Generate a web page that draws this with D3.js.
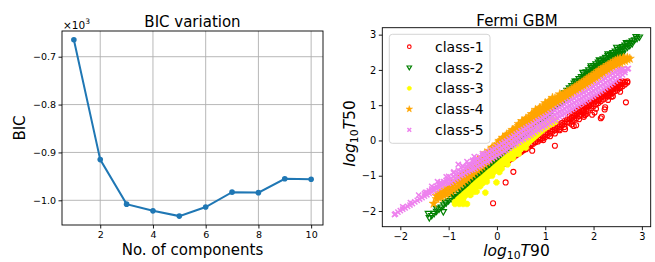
<!DOCTYPE html>
<html><head><meta charset="utf-8">
<script src="https://cdn.jsdelivr.net/npm/d3@7/dist/d3.min.js"></script>
<style>
html,body{margin:0;padding:0;background:#fff;}
svg{display:block;font-family:"DejaVu Sans",sans-serif;}
</style></head>
<body><svg id="c" width="655" height="262"></svg>
<script>
// ---------- Left panel data ----------
const components = [1,2,3,4,5,6,7,8,9,10];
const bicValues = [-664.5,-915,-1008,-1022,-1033,-1014,-983,-984,-955,-956];
const bicXTicks = [2,4,6,8,10];
const bicYTicks = [-1000,-900,-800,-700];

// ---------- Right panel data (log10 T90, log10 T50) ----------
const classNames = ["class-1","class-2","class-3","class-4","class-5"];
const classColors = ["red","green","yellow","orange","violet"];
const scatterTicks = [-2,-1,0,1,2,3];

// rows: [x, y, y, ...]
const class1Rows = [
[0.15,-0.66],[0.20,-0.61],[0.25,-0.56],[0.30,-0.52],[0.35,-0.47],[0.40,-0.42],[0.45,-0.37],
[0.50,-0.33,-0.30],[0.55,-0.28],[0.60,-0.23,-0.25],[0.65,-0.18],[0.70,-0.14,-0.11],[0.75,-0.09],
[0.80,-0.05,-0.01],[0.85,-0.03,0.04],[0.90,0.02,0.07],[0.95,0.06,0.12],[1.00,0.10,0.18],
[1.05,0.15,0.22],[1.10,0.20,0.27,0.12],[1.15,0.25,0.31],[1.20,0.29,0.36,0.20],[1.25,0.34,0.41],
[1.30,0.38,0.46,0.29],[1.35,0.43,0.50],[1.40,0.47,0.55,0.38],[1.45,0.52,0.60],
[1.50,0.50,0.60,0.68],[1.55,0.54,0.64,0.73],[1.60,0.59,0.69,0.78],[1.65,0.64,0.74,0.83],
[1.70,0.69,0.79,0.88],[1.75,0.73,0.83,0.93],[1.80,0.78,0.88,0.97],[1.85,0.83,0.93,1.02],
[1.90,0.87,0.97,1.07],[1.95,0.92,1.02,1.12],[2.00,0.97,1.07,1.17],[2.05,1.02,1.12,1.22],
[2.10,1.06,1.16,1.26],[2.15,1.11,1.21,1.31],[2.20,1.16,1.26,1.36],[2.25,1.21,1.31,1.40],
[2.30,1.25,1.35,1.45],[2.35,1.30,1.40,1.50],[2.40,1.35,1.45,1.55],[2.45,1.40,1.50,1.59],
[2.50,1.44,1.54,1.64],[2.55,1.49,1.59,1.66],[2.60,1.54,1.63,1.68],[2.65,1.59,1.66],[2.70,1.64,1.68]
];
const class1Scatter = [
[-0.08,-1.78],[0.34,-0.89],[0.18,-1.19],[1.20,-0.15],[0.73,-0.29],[0.96,0.01],[1.29,0.32],[1.41,0.32],
[1.59,0.41],[1.64,0.43],[1.80,0.67],[1.97,0.73],[2.02,0.79],[2.15,0.63],[2.23,0.88],[2.24,0.94],
[2.67,1.08],[2.48,1.48],[2.34,1.34],[2.11,1.15],[1.90,0.98],[1.79,0.86],[1.82,0.72],[2.17,0.67],
[2.37,1.24],[1.70,0.60],[1.85,0.75],[2.05,0.90],[2.30,1.15],[2.55,1.38],[1.55,0.45],[2.40,1.25]
];

const class2Rows = [
[-1.40,-2.19],[-1.35,-2.13],[-1.30,-2.07],[-1.25,-2.01],[-1.20,-1.95],[-1.15,-1.89],[-1.10,-1.83],
[-1.05,-1.77],[-1.00,-1.71],[-0.95,-1.65],[-0.90,-1.59],[-0.85,-1.53],[-0.80,-1.47],[-0.75,-1.41],
[-0.70,-1.35],[-0.65,-1.29],[-0.60,-1.23,-1.31],[-0.55,-1.17,-1.25],[-0.50,-1.11,-1.19],[-0.45,-1.05,-1.13],
[-0.40,-0.99,-1.07],[-0.35,-0.93,-1.01],[-0.30,-0.87,-0.95],[-0.25,-0.81,-0.89],[-0.20,-0.75,-0.83],
[-0.15,-0.69,-0.77],[-0.10,-0.63,-0.71],[-0.05,-0.57,-0.65],[0.00,-0.51,-0.59],[0.05,-0.45,-0.53],
[0.10,-0.39,-0.47],[0.15,-0.33,-0.41],[0.20,-0.27,-0.35],[0.25,-0.21,-0.29],[0.30,-0.15,-0.23],
[0.35,-0.09,-0.17],[0.40,-0.03,-0.11],[0.45,0.03,-0.05],[0.50,0.09,0.01],[0.55,0.15,0.07],
[0.60,0.21],[0.65,0.27],[0.70,0.33],[0.75,0.39],[0.80,0.45],[0.85,0.51],[0.90,0.57],[0.95,0.63],
[1.00,0.69],[1.05,0.75],[1.10,0.81],[1.15,0.87],[1.20,0.93],[1.25,0.99],[1.30,1.05],[1.35,1.11],
[1.40,1.35,1.25,1.17],[1.45,1.42,1.32,1.23],[1.50,1.49,1.39,1.29],[1.55,1.55,1.45,1.35],
[1.60,1.62,1.52,1.42],[1.65,1.68,1.58,1.48],[1.70,1.75,1.65,1.55],[1.75,1.81,1.71,1.61],
[1.80,1.88,1.78,1.68],[1.85,1.94,1.84,1.74],[1.90,2.00,1.90,1.80],[1.95,2.06,1.96,1.86],
[2.00,2.12,2.02,1.92],[2.05,2.17,2.07,1.97],[2.10,2.22,2.12,2.02],[2.15,2.26,2.16,2.06],
[2.20,2.31,2.21,2.11],[2.25,2.35,2.25,2.15],[2.30,2.40,2.30,2.20],[2.35,2.44,2.34,2.24],
[2.40,2.49,2.39,2.29],[2.45,2.53,2.43,2.33],[2.50,2.58,2.48,2.38],[2.55,2.62,2.52,2.42],
[2.60,2.66,2.56,2.46],[2.65,2.70,2.60],[2.70,2.74,2.64],[2.75,2.78,2.69],[2.80,2.82,2.74],
[2.85,2.85],[2.90,2.89],[2.95,2.93]
];
const class2Scatter = [
[-1.42,-2.07],[-1.11,-2.02],[-1.07,-1.75],[-0.94,-1.48],[-0.92,-1.45],[-0.76,-1.74],[-0.73,-1.45],
[-0.59,-1.22],[-0.49,-1.03],[-0.39,-0.93],[-0.28,-0.86],[-1.25,-1.92],[-0.85,-1.62],[-0.65,-1.22],
[1.62,1.68],[1.78,1.93],[1.95,2.11],[2.12,2.28],[2.30,2.45],[2.48,2.64],[2.68,2.77],[2.88,2.94]
];

const class3Rows = [
[-0.80,-1.74,-1.66],[-0.75,-1.68,-1.60],[-0.70,-1.62,-1.54],[-0.65,-1.56,-1.48],[-0.60,-1.50,-1.42],
[-0.55,-1.45,-1.36],[-0.50,-1.40,-1.29],[-0.45,-1.34,-1.23],[-0.40,-1.28,-1.17],[-0.35,-1.22,-1.11],
[-0.30,-1.17,-1.06],[-0.25,-1.11,-1.00],[-0.20,-1.05,-0.94],[-0.15,-0.99,-0.88],[-0.10,-0.94,-0.83],
[-0.05,-0.88,-0.77],[0.00,-0.82,-0.71],[0.05,-0.76,-0.65],[0.10,-0.70,-0.59],[0.15,-0.64,-0.53],
[0.20,-0.59,-0.47],[0.25,-0.53,-0.41],[0.30,-0.47,-0.35],[0.35,-0.42,-0.30],[0.40,-0.36,-0.24],
[0.45,-0.30,-0.18],[0.50,-0.24,-0.12],[0.55,-0.18,-0.06],[0.60,-0.12,0.00],[0.65,-0.06,0.06],
[0.70,0.00,0.12],[0.75,0.06,0.18],[0.80,0.12,0.24],[0.85,0.18,0.30],[0.90,0.24,0.36],
[0.95,0.30,0.42],[1.00,0.35,0.47],[1.05,0.40,0.51],[1.10,0.44,0.55],[1.15,0.48,0.57],[1.20,0.52,0.58]
];
const class3Scatter = [
[-0.87,-1.80],[-0.78,-1.80],[-0.70,-1.80],[-0.62,-1.80],[-0.87,-1.74],[-0.62,-1.50],[-0.48,-1.46],
[-0.42,-1.45],[-0.24,-1.48],[-0.21,-1.17],[-0.01,-1.19],[0.33,-0.51],[-0.55,-1.55],[-0.35,-1.30],
[-0.10,-1.00],[0.10,-0.80],[0.22,-0.68],[0.45,-0.38],[-0.70,-1.68],[-0.30,-1.22],[0.60,-0.20],[0.05,-0.90]
];

const class4Rows = [
[-1.25,-1.66,-1.57],[-1.20,-1.63,-1.52],[-1.15,-1.60,-1.47],[-1.10,-1.56,-1.43],[-1.05,-1.53,-1.38],
[-1.00,-1.50,-1.33],[-0.95,-1.45,-1.28],[-0.90,-1.40,-1.22],[-0.85,-1.35,-1.16],[-0.80,-1.30,-1.11],
[-0.75,-1.24,-1.12,-1.03],[-0.70,-1.19,-1.06,-0.97],[-0.65,-1.13,-1.01,-0.91],[-0.60,-1.08,-0.95,-0.85],
[-0.55,-1.02,-0.89,-0.79],[-0.50,-0.96,-0.84,-0.73],[-0.45,-0.90,-0.78,-0.67],[-0.40,-0.85,-0.72,-0.61],
[-0.35,-0.79,-0.67,-0.55],[-0.30,-0.74,-0.61,-0.49],[-0.25,-0.68,-0.55,-0.43],[-0.20,-0.62,-0.49,-0.37],
[-0.15,-0.56,-0.43,-0.30],[-0.10,-0.50,-0.37,-0.24],[-0.05,-0.45,-0.31,-0.18],[0.00,-0.39,-0.25,-0.11],
[0.05,-0.33,-0.19,-0.05],[0.10,-0.28,-0.13,0.01],[0.15,-0.23,-0.07,0.07],[0.20,-0.17,-0.01,0.13],
[0.25,-0.12,0.04,0.19],[0.30,-0.07,0.09,0.24],[0.35,-0.02,0.14,0.30],[0.40,0.04,0.20,0.36],
[0.45,0.09,0.25,0.41],[0.50,0.14,0.31,0.47],[0.55,0.20,0.37,0.53],[0.60,0.27,0.43,0.58],
[0.65,0.33,0.48,0.64],[0.70,0.40,0.54,0.69],[0.75,0.46,0.60,0.75],[0.80,0.52,0.66,0.81],
[0.85,0.58,0.72,0.86],[0.90,0.64,0.78,0.91],[0.95,0.70,0.84,0.95],[1.00,0.76,0.89,1.00],
[1.05,0.82,0.94,1.05],[1.10,0.88,0.99,1.10],[1.15,0.94,1.04,1.15],[1.20,1.00,1.09,1.19],
[1.25,1.06,1.14,1.20],[1.30,1.10,1.18,1.25],[1.35,1.14,1.23,1.29],[1.40,1.19,1.27,1.34],
[1.45,1.23,1.32,1.38],[1.50,1.28,1.36,1.40],[1.55,1.32,1.40,1.45],[1.60,1.37,1.45,1.50],
[1.65,1.41,1.49,1.54],[1.70,1.46,1.54,1.59],[1.75,1.51,1.58,1.63],[1.80,1.55,1.63,1.68],
[1.85,1.59,1.67,1.73],[1.90,1.63,1.72,1.78],[1.95,1.68,1.76,1.82],[2.00,1.72,1.80,1.87],
[2.05,1.77,1.85,1.92],[2.10,1.82,1.90,1.97],[2.15,1.86,1.95,2.01],[2.20,1.91,1.99,2.06],
[2.25,1.96,2.04,2.09],[2.30,2.00,2.08,2.14],[2.35,2.04,2.12,2.18],[2.40,2.09,2.16,2.22],
[2.45,2.13,2.20,2.26],[2.50,2.18,2.24,2.30],[2.55,2.21,2.27,2.32],[2.60,2.24,2.30],
[2.65,2.26,2.32],[2.70,2.30,2.35],[2.75,2.32]
];
const class4Scatter = [
[-1.31,-1.79],[-0.25,-0.36],[-0.10,-0.20],[0.05,-0.01],[0.20,0.17],[0.32,0.30],[0.45,0.47],
[0.60,0.62],[0.72,0.75],[0.88,0.92],[1.00,1.06],[1.15,1.21],[1.30,1.31],[2.55,2.05],[2.62,2.34],
[-0.40,-0.55],[0.12,0.08],[0.52,0.55],[0.80,0.87],[1.08,1.12],[-0.60,-0.80],[-0.95,-1.22]
];

const class5Rows = [
[-2.10,-2.08],[-2.05,-2.03],[-2.00,-1.99],[-1.95,-1.95],[-1.90,-1.91],[-1.85,-1.87],[-1.80,-1.83],
[-1.75,-1.79],[-1.70,-1.74],[-1.65,-1.70],[-1.60,-1.66],[-1.55,-1.62],[-1.50,-1.58,-1.51],
[-1.45,-1.54,-1.47],[-1.40,-1.50,-1.43],[-1.35,-1.45,-1.38],[-1.30,-1.41,-1.34],[-1.25,-1.37,-1.30],
[-1.20,-1.33,-1.26],[-1.15,-1.29,-1.22],[-1.10,-1.24,-1.17],[-1.05,-1.20,-1.13],
[-1.00,-1.22,-1.11,-1.02],[-0.95,-1.18,-1.07],[-0.90,-1.13,-1.02,-0.92],[-0.85,-1.09,-0.98],
[-0.80,-1.05,-0.93,-0.84],[-0.75,-1.00,-0.88],[-0.70,-0.97,-0.85,-0.75],[-0.65,-0.92,-0.80],
[-0.60,-0.88,-0.76,-0.68],[-0.55,-0.84,-0.71],[-0.50,-0.82,-0.70,-0.60],[-0.45,-0.79,-0.66,-0.55],
[-0.40,-0.75,-0.63,-0.52],[-0.35,-0.71,-0.58,-0.47],[-0.30,-0.67,-0.55,-0.42],[-0.25,-0.63,-0.50,-0.39],
[-0.20,-0.59,-0.47,-0.35],[-0.15,-0.56,-0.43,-0.31],[-0.10,-0.51,-0.39,-0.27],[-0.05,-0.47,-0.35,-0.23],
[0.00,-0.43,-0.31,-0.18],[0.05,-0.39,-0.26,-0.14],[0.10,-0.35,-0.22,-0.09],[0.15,-0.30,-0.17,-0.05],
[0.20,-0.27,-0.13,-0.01],[0.25,-0.22,-0.08,0.04],[0.30,-0.17,-0.03,0.09],[0.35,-0.13,0.02,0.13],
[0.40,-0.09,0.06,0.18],[0.45,-0.05,0.10,0.22],[0.50,0.00,0.15,0.27],[0.55,0.04,0.19,0.31],
[0.60,0.08,0.23,0.35],[0.65,0.12,0.27,0.39],[0.70,0.16,0.31,0.43],[0.75,0.20,0.35,0.47],
[0.80,0.25,0.40,0.52],[0.85,0.29,0.44,0.56],[0.90,0.33,0.48,0.60],[0.95,0.37,0.52,0.64],
[1.00,0.41,0.56,0.68],[1.05,0.45,0.60,0.72],[1.10,0.50,0.65,0.77],[1.15,0.54,0.69,0.81],
[1.20,0.58,0.73,0.85],[1.25,0.63,0.78,0.90],[1.30,0.67,0.82,0.94],[1.35,0.71,0.86,0.98],
[1.40,0.75,0.90,1.02],[1.45,0.80,0.95,1.07],[1.50,0.84,0.99,1.11],[1.55,0.88,1.03,1.15],
[1.60,0.92,1.07,1.19],[1.65,0.97,1.12,1.24],[1.70,1.01,1.16,1.28],[1.75,1.05,1.20,1.32],
[1.80,1.09,1.24,1.36],[1.85,1.13,1.28,1.40],[1.90,1.18,1.33,1.45],[1.95,1.22,1.37,1.49],
[2.00,1.26,1.41,1.53],[2.05,1.31,1.46,1.58],[2.10,1.35,1.50,1.62],[2.15,1.40,1.55,1.67],
[2.20,1.45,1.60,1.72],[2.25,1.49,1.64,1.76],[2.30,1.54,1.69,1.81],[2.35,1.58,1.73,1.85],
[2.40,1.63,1.78,1.90],[2.45,1.68,1.82,1.94],[2.50,1.74,1.87,1.97],[2.55,1.80,1.91,2.00],
[2.60,1.86,1.95],[2.65,1.92,1.99],[2.70,2.03]
];
const class5Scatter = [
[-1.79,-1.76],[-1.48,-1.47],[-1.17,-1.19],[-0.89,-0.89],[-0.71,-0.72],[-0.47,-0.46],[-1.62,-1.55],
[-1.23,-1.17],[-0.80,-0.68],[-0.50,-0.56],[-0.30,-0.37],[-2.12,-2.10],[-1.95,-1.88],[-1.35,-1.30],
[-1.05,-1.03],[-0.62,-0.60],[2.72,2.04],[2.60,2.02]
];

// ---------- drawing ----------
const svg = d3.select("#c");
const FONT = "DejaVu Sans";
const fmtMinus = s => s.replace("-", "\u2212");

// ===== Left panel =====
const L = {x0:62, x1:323, y0:31, y1:225};
const lx = d3.scaleLinear().domain([0.55,10.45]).range([L.x0,L.x1]);
const ly = d3.scaleLinear().domain([-1051.6,-646.3]).range([L.y1,L.y0]);
const lg = svg.append("g");

lg.selectAll("line.gx").data(bicXTicks).join("line")
  .attr("x1",d=>lx(d)).attr("x2",d=>lx(d)).attr("y1",L.y0).attr("y2",L.y1)
  .attr("stroke","#b0b0b0").attr("stroke-width",0.9);
lg.selectAll("line.gy").data(bicYTicks).join("line")
  .attr("y1",d=>ly(d)).attr("y2",d=>ly(d)).attr("x1",L.x0).attr("x2",L.x1)
  .attr("stroke","#b0b0b0").attr("stroke-width",0.9);

lg.append("path").datum(components.map((c,i)=>[c,bicValues[i]]))
  .attr("d", d3.line().x(d=>lx(d[0])).y(d=>ly(d[1])))
  .attr("fill","none").attr("stroke","#1f77b4").attr("stroke-width",2);
lg.selectAll("circle.pt").data(components).join("circle")
  .attr("cx",d=>lx(d)).attr("cy",(d,i)=>ly(bicValues[i])).attr("r",2.8).attr("fill","#1f77b4");

const lxAxis = d3.axisBottom(lx).tickValues(bicXTicks).tickSize(3.5).tickPadding(2.5).tickFormat(d3.format("d"));
const lyAxis = d3.axisLeft(ly).tickValues(bicYTicks).tickSize(3.5).tickPadding(2.5).tickFormat(d=>fmtMinus((d/1000).toFixed(1)));
const gLx = lg.append("g").attr("transform",`translate(0,${L.y1})`).call(lxAxis);
const gLy = lg.append("g").attr("transform",`translate(${L.x0},0)`).call(lyAxis);
[gLx,gLy].forEach(g=>{
  g.select(".domain").remove();
  g.selectAll("text").attr("font-family",FONT).attr("font-size",9.5).attr("fill","#000");
  g.selectAll("line").attr("stroke","#000").attr("stroke-width",0.9);
});
lg.append("rect").attr("x",L.x0).attr("y",L.y0).attr("width",L.x1-L.x0).attr("height",L.y1-L.y0)
  .attr("fill","none").attr("stroke","#000").attr("stroke-width",0.9);

lg.append("text").attr("x",192.5).attr("y",27).attr("text-anchor","middle")
  .attr("font-family",FONT).attr("font-size",15).text("BIC variation");
lg.append("text").attr("x",192.5).attr("y",255).attr("text-anchor","middle")
  .attr("font-family",FONT).attr("font-size",15).text("No. of components");
lg.append("text").attr("transform","translate(24.5,128) rotate(-90)").attr("text-anchor","middle")
  .attr("font-family",FONT).attr("font-size",15).text("BIC");
const off = lg.append("text").attr("x",63).attr("y",28.5).attr("font-family",FONT).attr("font-size",10.5);
off.append("tspan").text("\u00d710");
off.append("tspan").attr("dy",-4.5).attr("font-size",7.5).text("3");

// ===== Right panel =====
const R = {x0:382.3, x1:650.7, y0:27.7, y1:226.7};
const rx = d3.scaleLinear().domain([-2.373,3.183]).range([R.x0,R.x1]);
const ry = d3.scaleLinear().domain([-2.445,3.197]).range([R.y1,R.y0]);
const rg = svg.append("g");
svg.append("defs").append("clipPath").attr("id","clipR").append("rect")
  .attr("x",R.x0).attr("y",R.y0).attr("width",R.x1-R.x0).attr("height",R.y1-R.y0);

const octagon = r => { let p=""; for(let k=0;k<8;k++){const a=Math.PI/8+k*Math.PI/4; p+=(k?"L":"M")+(r*Math.cos(a)).toFixed(2)+","+(r*Math.sin(a)).toFixed(2);} return p+"Z"; };
const markerDefs = [
  {path:d3.symbol().type(d3.symbolCircle).size(20)(), fill:"none", stroke:"red", sw:1.1},
  {path:"M-3.1,-2.1L3.1,-2.1L0,3.3Z", fill:"none", stroke:"green", sw:1.2},
  {path:octagon(3.1), fill:"yellow", stroke:"yellow", sw:0.5},
  {path:d3.symbol().type(d3.symbolStar).size(26)(), fill:"orange", stroke:"orange", sw:0.5},
  {path:"M-2.6,-2.6L2.6,2.6M-2.6,2.6L2.6,-2.6", fill:"none", stroke:"violet", sw:1.5}
];

const expand = rows => rows.flatMap(r => r.slice(1).map(y => [r[0], y]));
const classPoints = [
  expand(class1Rows).concat(class1Scatter),
  expand(class2Rows).concat(class2Scatter),
  expand(class3Rows).concat(class3Scatter),
  expand(class4Rows).concat(class4Scatter),
  expand(class5Rows).concat(class5Scatter)
];

const plotArea = rg.append("g").attr("clip-path","url(#clipR)");
classPoints.forEach((pts,ci)=>{
  const m = markerDefs[ci];
  plotArea.append("g").selectAll("path").data(pts).join("path")
    .attr("transform",d=>`translate(${rx(d[0])},${ry(d[1])})`)
    .attr("d",m.path).attr("fill",m.fill).attr("stroke",m.stroke).attr("stroke-width",m.sw);
});

const rxAxis = d3.axisBottom(rx).tickValues(scatterTicks).tickSize(3.5).tickPadding(2.5).tickFormat(d=>fmtMinus(String(d)));
const ryAxis = d3.axisLeft(ry).tickValues(scatterTicks).tickSize(3.5).tickPadding(2.5).tickFormat(d=>fmtMinus(String(d)));
const gRx = rg.append("g").attr("transform",`translate(0,${R.y1})`).call(rxAxis);
const gRy = rg.append("g").attr("transform",`translate(${R.x0},0)`).call(ryAxis);
[gRx,gRy].forEach(g=>{
  g.select(".domain").remove();
  g.selectAll("text").attr("font-family",FONT).attr("font-size",9.8).attr("fill","#000");
  g.selectAll("line").attr("stroke","#000").attr("stroke-width",0.9);
});
rg.append("rect").attr("x",R.x0).attr("y",R.y0).attr("width",R.x1-R.x0).attr("height",R.y1-R.y0)
  .attr("fill","none").attr("stroke","#000").attr("stroke-width",0.9);

// legend
const leg = rg.append("g");
leg.append("rect").attr("x",389.3).attr("y",34.3).attr("width",100.7).attr("height",109)
  .attr("rx",3).attr("fill","#fff").attr("fill-opacity",0.8).attr("stroke","#d0d0d0").attr("stroke-width",0.9);
const legY = [46.7,67.5,88.3,109.1,129.9];
classNames.forEach((n,i)=>{
  const m = markerDefs[i];
  leg.append("path").attr("transform",`translate(409.3,${legY[i]}) scale(0.72)`).attr("d",m.path)
    .attr("fill",m.fill).attr("stroke",m.stroke).attr("stroke-width",m.sw*1.4);
  leg.append("text").attr("x",435).attr("y",legY[i]+5).attr("font-family",FONT).attr("font-size",14).text(n);
});

rg.append("text").attr("x",517).attr("y",25.5).attr("text-anchor","middle")
  .attr("font-family",FONT).attr("font-size",15).text("Fermi GBM");
function mathLabel(sel, tail){
  sel.attr("font-family",FONT).attr("font-size",15.5).attr("text-anchor","middle");
  sel.append("tspan").attr("font-style","italic").text("log");
  sel.append("tspan").attr("dy",3.5).attr("font-size",10.8).text("10");
  sel.append("tspan").attr("dy",-3.5).attr("font-style","italic").text("T");
  sel.append("tspan").text(tail);
}
mathLabel(rg.append("text").attr("x",516.5).attr("y",255.5), "90");
mathLabel(rg.append("text").attr("transform","translate(354.5,133.5) rotate(-90)"), "50");
</script></body></html>
